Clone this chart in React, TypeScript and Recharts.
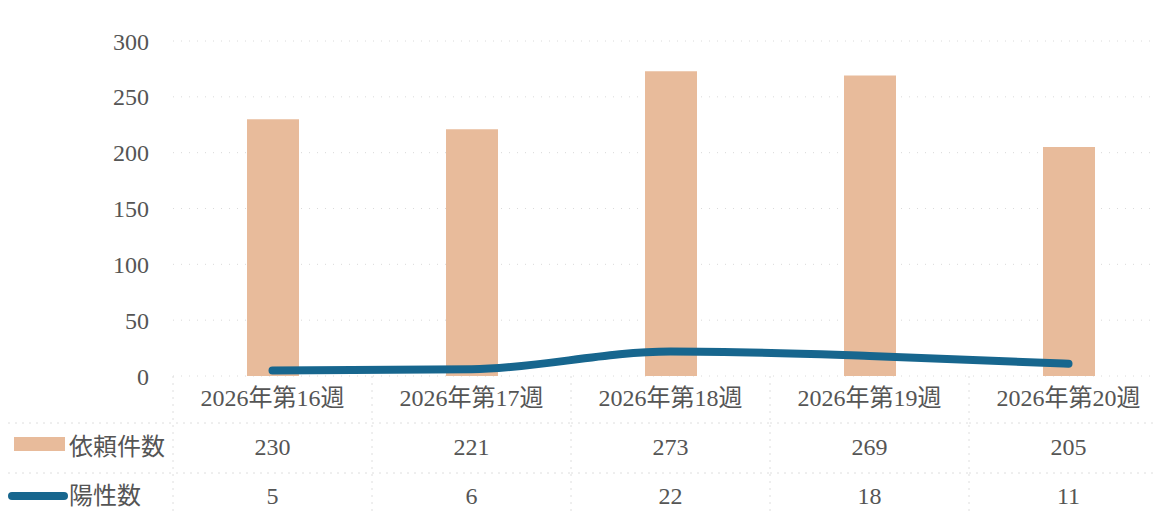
import { ComposedChart, Bar, Line, XAxis, YAxis, CartesianGrid } from "recharts";

const weeks = ["2026年第16週", "2026年第17週", "2026年第18週", "2026年第19週", "2026年第20週"];
const requests = [230, 221, 273, 269, 205];
const positives = [5, 6, 22, 18, 11];
const yTicks = [0, 50, 100, 150, 200, 250, 300];

const BAR_COLOR = "#E8BB9B";
const LINE_COLOR = "#17668E";
const TEXT_COLOR = "#555555";
const BORDER_COLOR = "#dedede";
const FONT = "'Liberation Serif', 'Noto Sans CJK JP', serif";

const data = weeks.map((w, i) => ({ week: w, requests: requests[i], positives: positives[i] }));

// x-axis tick that also draws the data table under the plot
function TableTick(props: any) {
  const { y, payload } = props;
  const i: number = payload.index;
  const cx: number = payload.coordinate;
  const half: number = payload.offset || 99;
  const left = cx - half;
  const right = cx + half;
  const dots = "2 5";
  return (
    <g fontFamily={FONT} fontSize={24} fill={TEXT_COLOR}>
      <line x1={left} x2={left} y1={y} y2={y + 140} stroke={BORDER_COLOR} strokeDasharray={dots} />
      {i === weeks.length - 1 && (
        <line x1={right} x2={right} y1={y} y2={y + 140} stroke={BORDER_COLOR} strokeDasharray={dots} />
      )}
      <line x1={i === 0 ? 8 : left} x2={right} y1={y + 47} y2={y + 47} stroke={BORDER_COLOR} strokeDasharray={dots} />
      <line x1={i === 0 ? 8 : left} x2={right} y1={y + 97} y2={y + 97} stroke={BORDER_COLOR} strokeDasharray={dots} />
      <text x={cx} y={y + 24} textAnchor="middle" dominantBaseline="middle">{payload.value}</text>
      <text x={cx} y={y + 73} textAnchor="middle" dominantBaseline="middle">{requests[i]}</text>
      <text x={cx} y={y + 122} textAnchor="middle" dominantBaseline="middle">{positives[i]}</text>
      {i === 0 && (
        <g>
          <rect x={14} y={y + 61} width={51} height={14} fill={BAR_COLOR} />
          <text x={69} y={y + 73} dominantBaseline="middle">依頼件数</text>
          <line x1={12} x2={64} y1={y + 120} y2={y + 120} stroke={LINE_COLOR} strokeWidth={8} strokeLinecap="round" />
          <text x={69} y={y + 122} dominantBaseline="middle">陽性数</text>
        </g>
      )}
    </g>
  );
}

export default function App() {
  return (
    <div style={{ position: "absolute", left: 0, top: 0, width: 1153, height: 516, overflow: "hidden", background: "#fff" }}>
      <ComposedChart
        width={1170}
        height={516}
        data={data}
        margin={{ top: 41, right: 2, left: 0, bottom: 0 }}
        barCategoryGap={0}
      >
        <CartesianGrid vertical={false} stroke="#dadada" strokeDasharray="1 7" />
        <XAxis
          dataKey="week"
          axisLine={false}
          tickLine={false}
          tickSize={0}
          tickMargin={0}
          height={140}
          interval={0}
          tick={<TableTick />}
        />
        <YAxis
          domain={[0, 300]}
          ticks={yTicks}
          axisLine={false}
          tickLine={false}
          tickSize={0}
          tickMargin={24}
          width={173}
          tick={{ fontFamily: FONT, fontSize: 24, fill: TEXT_COLOR }}
        />
        <Bar dataKey="requests" fill={BAR_COLOR} barSize={52} isAnimationActive={false} />
        <Line
          type="monotone"
          dataKey="positives"
          stroke={LINE_COLOR}
          strokeWidth={8}
          strokeLinecap="round"
          dot={false}
          activeDot={false}
          isAnimationActive={false}
        />
      </ComposedChart>
    </div>
  );
}
